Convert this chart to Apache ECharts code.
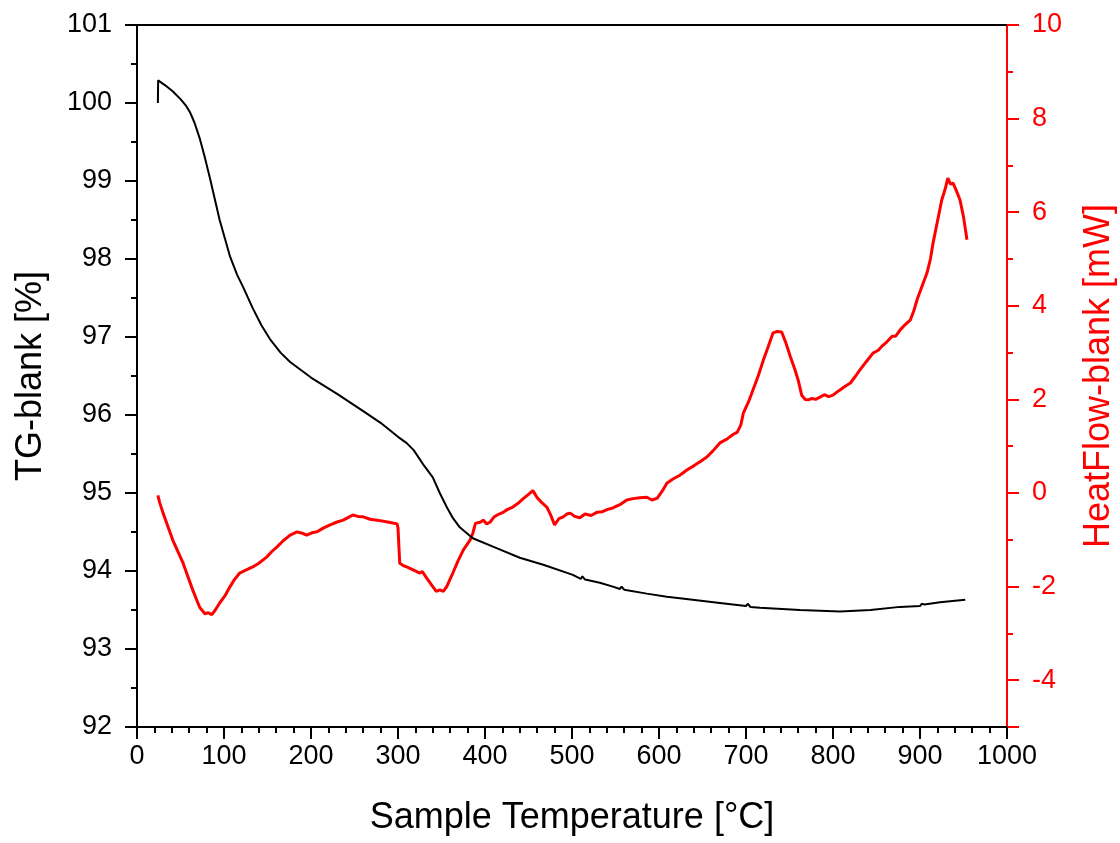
<!DOCTYPE html>
<html>
<head>
<meta charset="utf-8">
<script src="https://cdn.jsdelivr.net/npm/echarts@6/dist/echarts.min.js"></script>
<style>html,body{margin:0;padding:0;background:#fff}#c{width:1120px;height:843px}</style>
</head>
<body>
<div id="c"></div>
<script>
// ---- data ----
const xTicks = [0,100,200,300,400,500,600,700,800,900,1000];
const leftTicks = [92,93,94,95,96,97,98,99,100,101];
const rightTicks = [-4,-2,0,2,4,6,8,10];
const rightMinorTicks = [-3,-1,1,3,5,7,9];

const tgTemp = [24,24.3,32,41,50,56,61,66,72,78,84,95,107,115,122,133,143,153,165,176,188,200,230,260,280,300,310,318,330,340,348,356,363,371,386,414,440,467,501,510,512,515,532,547,555,557,560,586,609,624,670,700,702,705,716,762,808,843,877,900,902,905,923,952];
const tgValue = [100.0,100.29,100.23,100.15,100.05,99.97,99.88,99.75,99.55,99.3,99.03,98.5,98.03,97.8,97.64,97.37,97.15,96.97,96.8,96.68,96.58,96.48,96.27,96.05,95.9,95.72,95.64,95.55,95.35,95.2,95.0,94.82,94.68,94.56,94.42,94.29,94.17,94.08,93.95,93.9,93.93,93.89,93.85,93.8,93.77,93.8,93.76,93.71,93.67,93.65,93.59,93.55,93.58,93.54,93.53,93.5,93.48,93.5,93.54,93.55,93.58,93.57,93.6,93.63];

const hfTemp = [24,26,30,41,53,64,72,78,82,86,90,95,101,107,112,118,125,133,140,149,155,161,168,176,184,190,195,201,207,214,222,230,237,243,248,254,260,268,276,288,299,300,302,306,310,318,325,328,333,340,344,348,352,356,363,369,375,383,386,389,391,395,398,402,406,410,414,420,426,432,438,444,450,455,460,465,471,475,480,485,490,494,498,503,509,515,522,529,535,541,547,555,563,570,578,586,592,598,604,609,616,624,632,640,648,655,662,670,678,685,690,694,697,703,708,714,720,725,731,736,741,746,751,756,760,764,768,771,776,780,785,790,795,800,804,808,814,820,826,831,838,846,852,857,862,868,872,877,883,889,893,897,902,908,912,915,920,925,929,932,935,938,942,946,950,954];
const hfValue = [-0.05,-0.2,-0.43,-1.0,-1.5,-2.07,-2.44,-2.58,-2.56,-2.6,-2.5,-2.35,-2.2,-2.0,-1.85,-1.71,-1.65,-1.58,-1.5,-1.37,-1.25,-1.15,-1.02,-0.9,-0.83,-0.86,-0.9,-0.85,-0.83,-0.75,-0.68,-0.62,-0.58,-0.52,-0.47,-0.5,-0.51,-0.56,-0.58,-0.62,-0.66,-0.75,-1.5,-1.55,-1.58,-1.65,-1.71,-1.68,-1.82,-2.0,-2.1,-2.07,-2.1,-2.0,-1.71,-1.45,-1.22,-1.0,-0.86,-0.65,-0.62,-0.62,-0.58,-0.66,-0.62,-0.52,-0.47,-0.42,-0.35,-0.3,-0.22,-0.12,-0.03,0.05,-0.1,-0.2,-0.3,-0.45,-0.68,-0.55,-0.51,-0.45,-0.43,-0.5,-0.53,-0.45,-0.48,-0.41,-0.4,-0.35,-0.32,-0.25,-0.15,-0.12,-0.1,-0.09,-0.15,-0.11,0.05,0.21,0.3,0.38,0.49,0.58,0.68,0.77,0.9,1.07,1.15,1.25,1.3,1.45,1.71,1.95,2.2,2.5,2.84,3.1,3.42,3.45,3.44,3.2,2.91,2.65,2.41,2.09,2.0,1.99,2.02,2.0,2.05,2.1,2.06,2.09,2.15,2.2,2.28,2.35,2.5,2.63,2.8,2.99,3.05,3.15,3.23,3.35,3.35,3.48,3.6,3.7,3.9,4.15,4.4,4.7,5.0,5.34,5.8,6.26,6.5,6.73,6.6,6.62,6.45,6.26,5.9,5.41];

const zip = (a, b) => a.map((v, i) => [v, b[i]]);

const FONT = '"Liberation Sans", Arial, sans-serif';
const RED = '#ff0000';
const GRID = {left: 137, right: 113, top: 25, bottom: 116, containLabel: false, outerBoundsMode: 'none'};

const chart = echarts.init(document.getElementById('c'), null, {renderer: 'canvas'});
chart.setOption({
  animation: false,
  backgroundColor: '#fff',
  grid: [Object.assign({}, GRID), Object.assign({}, GRID)],
  xAxis: [{
    type: 'value', gridIndex: 0, min: xTicks[0], max: xTicks[xTicks.length-1], interval: 100,
    position: 'bottom',
    name: 'Sample Temperature [°C]', nameLocation: 'middle', nameGap: 73,
    nameTextStyle: {fontFamily: FONT, fontSize: 36, color: '#000'},
    axisLine: {show: true, onZero: false, lineStyle: {color: '#000', width: 2}},
    axisTick: {show: true, inside: false, length: 12, lineStyle: {color: '#000', width: 2}},
    minorTick: {show: true, splitNumber: 5, length: 6, lineStyle: {color: '#000', width: 2}},
    axisLabel: {fontFamily: FONT, fontSize: 27, color: '#000', margin: 16, formatter: v => String(v)},
    splitLine: {show: false}
  }, {
    type: 'value', gridIndex: 0, min: 0, max: 1000, position: 'top',
    axisLine: {show: true, onZero: false, lineStyle: {color: '#000', width: 2}},
    axisTick: {show: false}, axisLabel: {show: false}, splitLine: {show: false}
  }, {
    type: 'value', gridIndex: 1, min: 0, max: 1000, show: false
  }],
  yAxis: [{
    type: 'value', gridIndex: 0, min: leftTicks[0], max: leftTicks[leftTicks.length-1], interval: 1,
    position: 'left',
    name: 'TG-blank [%]', nameLocation: 'middle', nameGap: 88,
    nameTextStyle: {fontFamily: FONT, fontSize: 36, color: '#000'},
    axisLine: {show: true, onZero: false, lineStyle: {color: '#000', width: 2}},
    axisTick: {show: true, inside: false, length: 12, lineStyle: {color: '#000', width: 2}},
    minorTick: {show: true, splitNumber: 2, length: 6, lineStyle: {color: '#000', width: 2}},
    axisLabel: {fontFamily: FONT, fontSize: 27, color: '#000', margin: 25},
    splitLine: {show: false}
  }, {
    type: 'value', gridIndex: 0, min: -5, max: 10,
    position: 'right',
    name: 'HeatFlow-blank [mW]', nameLocation: 'middle', nameGap: 74, nameRotate: 90,
    nameTextStyle: {fontFamily: FONT, fontSize: 36, color: RED},
    axisLine: {show: true, onZero: false, lineStyle: {color: RED, width: 2}},
    axisTick: {show: true, inside: false, length: 12, customValues: rightTicks.concat([-5]), lineStyle: {color: RED, width: 2}},
    axisLabel: {fontFamily: FONT, fontSize: 27, color: RED, margin: 25, customValues: rightTicks},
    splitLine: {show: false}
  }, {
    type: 'value', gridIndex: 1, min: -5, max: 10,
    position: 'right',
    axisLine: {show: false, onZero: false},
    axisTick: {show: true, inside: false, length: 6, customValues: rightMinorTicks, lineStyle: {color: RED, width: 2}},
    axisLabel: {show: false},
    splitLine: {show: false}
  }],
  series: [{
    type: 'line', name: 'TG-blank', xAxisIndex: 0, yAxisIndex: 0,
    data: zip(tgTemp, tgValue), showSymbol: false, symbol: 'none',
    lineStyle: {color: '#000', width: 2}, z: 3
  }, {
    type: 'line', name: 'HeatFlow-blank', xAxisIndex: 0, yAxisIndex: 1,
    data: zip(hfTemp, hfValue), showSymbol: false, symbol: 'none',
    lineStyle: {color: RED, width: 3}, z: 2
  }]
});
</script>
</body>
</html>
